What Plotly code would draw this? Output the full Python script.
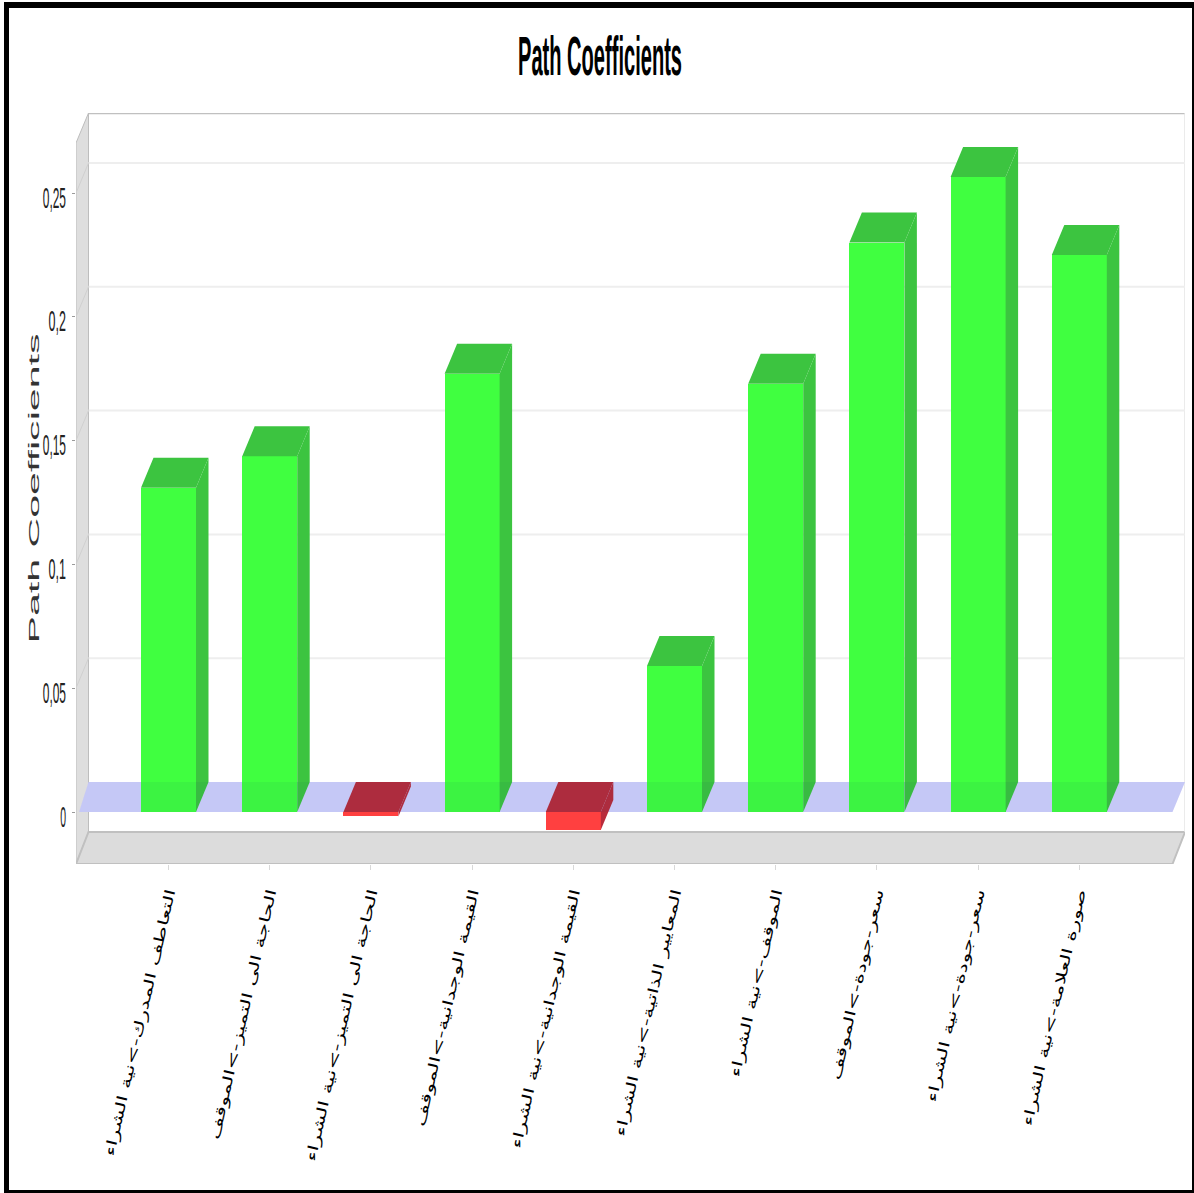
import plotly.graph_objects as go

# ---- data ----
categories = [
    "التعاطف المدرك->نية الشراء",
    "الحاجة الى التميز->الموقف",
    "الحاجة الى التميز->نية الشراء",
    "القيمة الوجدانية->الموقف",
    "القيمة الوجدانية->نية الشراء",
    "المعايير الذاتية->نية الشراء",
    "الموقف->نية الشراء",
    "سعر-جودة->الموقف",
    "سعر-جودة->نية الشراء",
    "صورة العلامة->نية الشراء",
]
values = [0.131, 0.1437, -0.0018, 0.177, -0.0073, 0.059, 0.173, 0.230, 0.2565, 0.225]
y_ticks = [0, 0.05, 0.1, 0.15, 0.2, 0.25]
y_tick_labels = ["0", "0,05", "0,1", "0,15", "0,2", "0,25"]
title_text = "Path Coefficients"
y_title = "Path Coefficients"

# ---- styling ----
GREEN, GREEN_DK = "#40ff40", "#3cc440"
RED, RED_DK = "#ff4040", "#b82c3c"
W, H = 1194, 1193
L, R, T, B = 76, 1185, 113, 864
X0, XSTEP = 168.5, 101.2
ZERO, YSCALE = 812, 2476
BAR_W = 55 / XSTEP
DX, DY = 12.5 / XSTEP, 30 / YSCALE
x_range = [(L - X0) / XSTEP, (R - X0) / XSTEP]
y_range = [(ZERO - B) / YSCALE, (ZERO - T) / YSCALE]
xs = list(range(len(values)))

def poly(points, **kw):
    path = "M" + " L".join(f"{x:.5f} {y:.5f}" for x, y in points) + " Z"
    return dict(type="path", xref="x", yref="y", path=path, **kw)

y_floor_front, y_floor_back = y_range[0], y_range[0] + (864 - 832) / YSCALE
x_front_r = x_range[1] - DX
x_back_l = x_range[0] + DX
y_top = y_range[1]
y_wall_front_top = y_top - DY
none = dict(width=0)
shapes = [
    # walls and floor
    poly([(x_range[0], y_wall_front_top), (x_back_l, y_top), (x_back_l, y_floor_back), (x_range[0], y_floor_front)],
         fillcolor="#dedede", line=dict(color="#bdbdbd", width=1), layer="below"),
    poly([(x_back_l, y_floor_back), (x_range[1], y_floor_back), (x_front_r, y_floor_front), (x_range[0], y_floor_front)],
         fillcolor="#dcdcdc", line=dict(color="#c0c0c0", width=2), layer="below"),
    dict(type="line", xref="x", yref="y", x0=x_back_l, x1=x_range[1], y0=y_top, y1=y_top,
         line=dict(color="#c0c0c0", width=2.5), layer="below"),
    dict(type="line", xref="x", yref="y", x0=x_range[1], x1=x_range[1], y0=y_top, y1=y_floor_back,
         line=dict(color="#e4e4e4", width=1.5), layer="below"),
    # zero plane
    poly([(x_range[0] + 0.03, 0), (x_back_l, DY), (x_range[1], DY), (x_front_r, 0)],
         fillcolor="#d2d2ff", line=none, layer="below"),
    # slight shade of the zero plane over the bars
    poly([(x_range[0] + 0.03, 0), (x_back_l, DY), (x_range[1], DY), (x_front_r, 0)],
         fillcolor="rgba(0,50,100,0.06)", line=none, layer="above"),
]
# back-wall gridlines
for t in y_ticks[1:]:
    shapes.append(dict(type="line", xref="x", yref="y", x0=x_back_l, x1=x_range[1], y0=t + DY, y1=t + DY,
                       line=dict(color="#eeeeee", width=2), layer="below"))
    shapes.append(dict(type="line", xref="x", yref="y", x0=x_range[0], x1=x_back_l, y0=t, y1=t + DY,
                       line=dict(color="#d0d0d0", width=1), layer="below"))

# black frame (paper coordinates)
px = lambda v: (v - L) / (R - L)
py = lambda v: (B - v) / (B - T)
for a, b, c, d in [(4, 2, W, 8), (4, 2, 9, H), (1192, 2, W, H), (4, 1190, W, H)]:
    shapes.append(dict(type="rect", xref="paper", yref="paper", x0=px(a), x1=px(c), y0=py(b), y1=py(d),
                       fillcolor="black", line=none, layer="above"))

fig = go.Figure()
colors = [GREEN if v >= 0 else RED for v in values]
colors_dk = [GREEN_DK if v >= 0 else RED_DK for v in values]
fig.add_trace(go.Bar(x=xs, y=values, width=BAR_W, marker=dict(color=colors, line=dict(width=0)),
                     hoverinfo="skip", showlegend=False))

for x, v, dk in zip(xs, values, colors_dk):
    l, r = x - BAR_W / 2, x + BAR_W / 2
    up = max(v, 0)
    down = min(v, 0)
    top = [(l, up), (r, up), (r + DX, up + DY), (l + DX, up + DY), (l, up)]
    side = [(r, up), (r + DX, up + DY), (r + DX, down + DY), (r, down), (r, up)]
    for pts in (top, side):
        fig.add_trace(go.Scatter(x=[p[0] for p in pts], y=[p[1] for p in pts], mode="lines",
                                 fill="toself", fillcolor=dk, line=dict(width=0, color=dk),
                                 hoverinfo="skip", showlegend=False))

fig.update_layout(
    width=W, height=H, autosize=False,
    margin=dict(l=L, r=W - R, t=T, b=H - B),
    paper_bgcolor="white", plot_bgcolor="white",
    bargap=0, shapes=shapes, showlegend=False,
    title=dict(text=title_text, x=600 / W, xanchor="center", y=1 - 55 / H, yanchor="middle",
               font=dict(family="Liberation Sans Narrow, Liberation Sans", size=56, color="black", weight="bold")),
    xaxis=dict(range=x_range, tickmode="array", tickvals=xs, ticktext=categories, tickangle=-77,
               ticks="outside", ticklen=5, tickcolor="#d8d8d8", showgrid=False, zeroline=False,
               showline=False, ticklabelstandoff=9, automargin=False,
               tickfont=dict(family="DejaVu Sans", size=14, color="black")),
    yaxis=dict(range=y_range, tickmode="array", tickvals=y_ticks, ticktext=y_tick_labels,
               ticks="outside", ticklen=3, tickcolor="#9a9a9a", showgrid=False, zeroline=False,
               showline=False, automargin=False,
               tickfont=dict(family="Liberation Sans Narrow, Liberation Sans", size=30, color="#222222"),
               title=dict(text=y_title, standoff=8,
                          font=dict(family="Liberation Sans", size=15, color="#333333"))),
)

post = """
document.body.style.margin = '0';
function fit(sel, fn) { document.querySelectorAll(sel).forEach(function (t) {
    var w = fn(t); if (w) { t.setAttribute('textLength', w); t.setAttribute('lengthAdjust', 'spacingAndGlyphs'); } }); }
fit('.gtitle', function () { return 164; });
fit('.ytitle', function () { return 310; });
fit('.ytick text', function (t) { t.setAttribute('dy', 4); return t.textContent.length * 5.8; });
fit('.xtick text', function (t) { return t.getComputedTextLength() * 1.6; });
document.querySelectorAll('.ytitle').forEach(function (t) {
    var y = t.getAttribute('y') || 488;
    t.setAttribute('x', 20);
    t.setAttribute('transform', 'rotate(-90,20,' + y + ')');
});
"""
fig.write_html("out.html", post_script=post, config=dict(displayModeBar=False))
